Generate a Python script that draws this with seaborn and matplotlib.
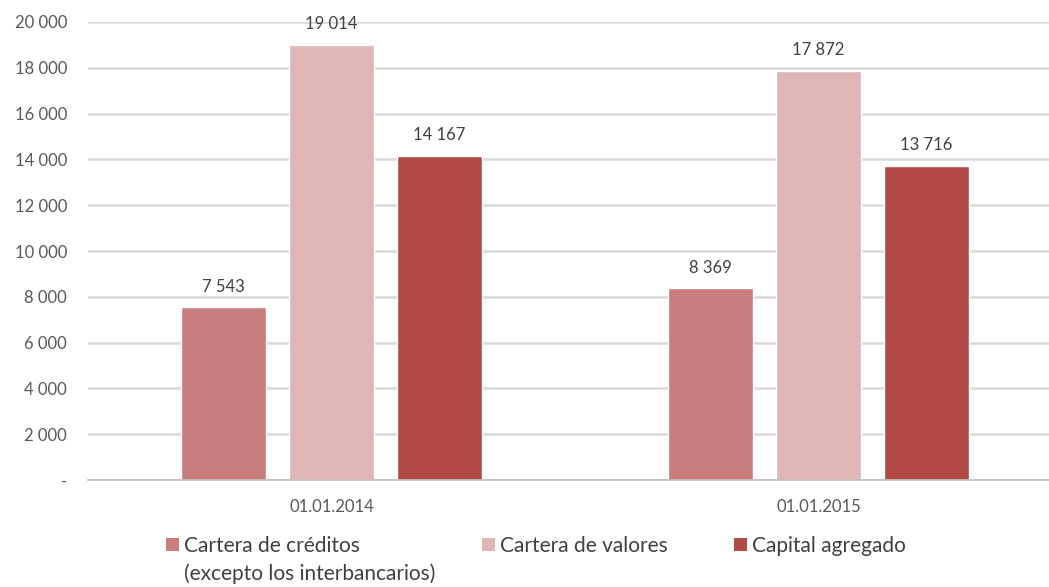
import matplotlib
matplotlib.use("Agg")
import matplotlib.pyplot as plt
from matplotlib.patches import Patch
import seaborn as sns
import pandas as pd

fechas = ["01.01.2014", "01.01.2015"]
series = ["Cartera de créditos", "Cartera de valores", "Capital agregado"]
creditos = [7543, 8369]
valores = [19014, 17872]
capital = [14167, 13716]
colores = ["#C97D7D", "#DFB5B5", "#B24B48"]
yticks = list(range(0, 20001, 2000))

df = pd.DataFrame({
    "fecha": fechas * 3,
    "serie": [series[0]] * 2 + [series[1]] * 2 + [series[2]] * 2,
    "valor": creditos + valores + capital,
})

sns.set_style("white")
plt.rcParams["font.family"] = ["Lato", "DejaVu Sans"]

fig = plt.figure(figsize=(10.49, 5.87), dpi=100)
ax = fig.add_axes([88 / 1049, 1 - 480 / 587, 974 / 1049, 458 / 587])

sns.barplot(data=df, x="fecha", y="valor", hue="serie", hue_order=series,
            palette=colores, width=0.665, gap=0.214, saturation=1,
            legend=False, ax=ax)

fmt = lambda v: f"{v:,.0f}".replace(",", " ")
for cont in ax.containers:
    ax.bar_label(cont, labels=[fmt(b.get_height()) for b in cont],
                 padding=9, fontsize=12, color="#404040")

ax.set_ylim(0, 20000)
ax.set_xlim(-0.5, 1.5)
ax.set_yticks(yticks)
ax.set_yticklabels(["-"] + [fmt(t) for t in yticks[1:]])
ax.yaxis.grid(True, color="#D9D9D9", linewidth=1.8)
ax.set_axisbelow(True)
ax.set_xlabel("")
ax.set_ylabel("")
ax.tick_params(axis="y", length=0, labelsize=12, labelcolor="#595959", pad=15)
ax.tick_params(axis="x", length=0, labelsize=12, labelcolor="#595959", pad=14)
ax.set_xticks([-0.5, 0.5, 1.5], minor=True)
ax.tick_params(axis="x", which="minor", length=6, color="#BFBFBF", width=1.2)
for s in ["left", "right", "top"]:
    ax.spines[s].set_visible(False)
ax.spines["bottom"].set_color("#BFBFBF")
ax.spines["bottom"].set_linewidth(1.2)

# one legend per entry, placed like the original
leg_x = [166, 482, 734]
legs = []
for nombre, c, x in zip(series, colores, leg_x):
    lg = fig.legend([Patch(facecolor=c, edgecolor="none")], [nombre], loc="upper left",
                    bbox_to_anchor=(x / 1049, 1 - 536 / 587),
                    frameon=False, fontsize=15, handlelength=0.62,
                    handleheight=0.62, handletextpad=0.25,
                    borderpad=0, borderaxespad=0, labelcolor="#404040")
    legs.append(lg)

fig.canvas.draw()
t0 = legs[0].get_texts()[0]
bb = t0.get_window_extent().transformed(fig.transFigure.inverted())
fig.text(bb.x0, bb.y0 - 0.012, "(excepto los interbancarios)", ha="left", va="top",
         fontsize=15, color="#404040")

fig.savefig("out.png", dpi=100)
